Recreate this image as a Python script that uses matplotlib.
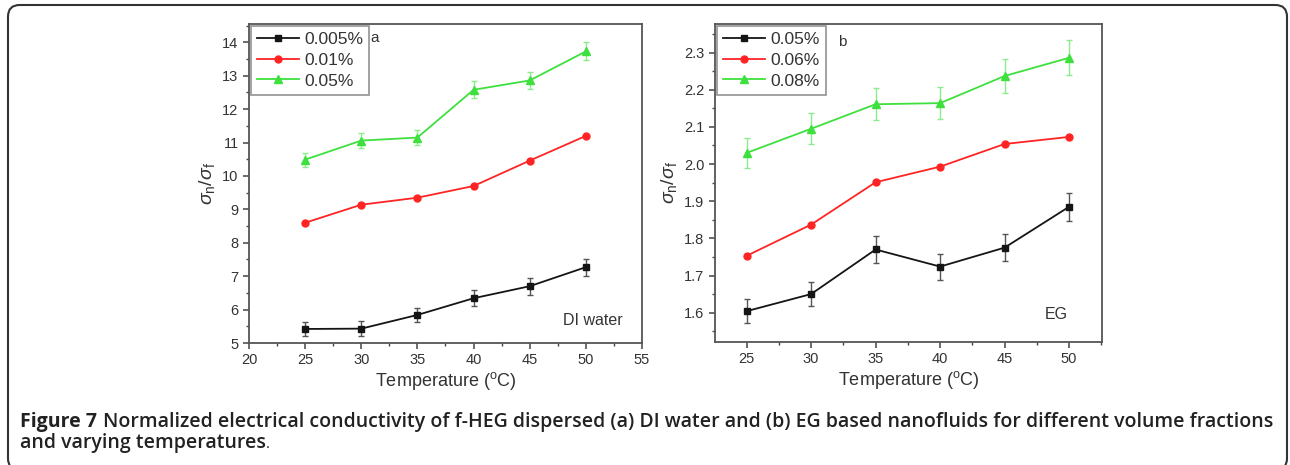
import matplotlib
matplotlib.use("Agg")
import matplotlib.pyplot as plt
from matplotlib.patches import FancyBboxPatch
from matplotlib.ticker import MultipleLocator

plt.rcParams["font.family"] = ["Liberation Sans", "DejaVu Sans"]
plt.rcParams["mathtext.fontset"] = "custom"
plt.rcParams["mathtext.rm"] = "Liberation Sans"
plt.rcParams["mathtext.it"] = "Liberation Sans:italic"

# ---- data ----
temps = [25, 30, 35, 40, 45, 50]

# (a) DI water
a_labels = ["0.005%", "0.01%", "0.05%"]
a_005 = [5.42, 5.43, 5.84, 6.34, 6.70, 7.27]
a_005_err = [0.21, 0.22, 0.22, 0.24, 0.25, 0.25]
a_01 = [8.60, 9.14, 9.35, 9.70, 10.46, 11.20]
a_01_err = [0.0, 0.0, 0.0, 0.0, 0.0, 0.0]
a_05 = [10.49, 11.06, 11.15, 12.58, 12.86, 13.73]
a_05_err = [0.21, 0.22, 0.22, 0.25, 0.26, 0.27]

# (b) EG
b_labels = ["0.05%", "0.06%", "0.08%"]
b_05 = [1.604, 1.650, 1.770, 1.724, 1.775, 1.885]
b_05_err = [0.033, 0.033, 0.036, 0.035, 0.036, 0.038]
b_06 = [1.753, 1.837, 1.951, 1.993, 2.054, 2.073]
b_06_err = [0.0, 0.0, 0.0, 0.0, 0.0, 0.0]
b_08 = [2.030, 2.095, 2.161, 2.164, 2.237, 2.286]
b_08_err = [0.040, 0.042, 0.043, 0.043, 0.045, 0.047]

colors = ["#151515", "#ff2424", "#3ee03e"]
err_colors = ["#555555", "#ff8a8a", "#8cec8c"]
markers = ["s", "o", "^"]
msizes = [4.5, 5.0, 5.5]

W, H = 1290, 465
fig = plt.figure(figsize=(W / 100, H / 100), dpi=100)

ax_a = fig.add_axes([249 / W, 1 - 343 / H, 393 / W, 319 / H])
ax_b = fig.add_axes([715 / W, 1 - 342 / H, 387 / W, 318 / H])


def draw(ax, series, errs, labels):
    handles = []
    for y, e, c, ec, m, ms, lab in zip(series, errs, colors, err_colors,
                                        markers, msizes, labels):
        if max(e) > 0:
            ax.errorbar(temps, y, yerr=e, fmt="none", ecolor=ec,
                        elinewidth=1.0, capsize=2.5, capthick=1.0, zorder=2)
        h, = ax.plot(temps, y, color=c, lw=1.3, marker=m, ms=ms,
                     mec=c, mfc=c, label=lab, zorder=3)
        handles.append(h)
    leg = ax.legend(handles=handles, loc="upper left",
                    bbox_to_anchor=(0.006, 0.994), fontsize=12.5,
                    frameon=True, fancybox=False, handlelength=2.4,
                    handletextpad=0.3, borderpad=0.35, labelspacing=0.32,
                    borderaxespad=0.0)
    leg.get_frame().set_edgecolor("#777777")
    leg.get_frame().set_linewidth(1.2)
    for t in leg.get_texts():
        t.set_color("#333333")
    for s in ax.spines.values():
        s.set_color("#555555")
        s.set_linewidth(1.3)
    ax.tick_params(which="both", direction="out", colors="#444444",
                   labelcolor="#333333", top=False, right=False)
    ax.tick_params(which="major", length=4, width=1.1, labelsize=10.5)
    ax.tick_params(which="minor", length=2.5, width=1.0)
    ax.set_xlabel("Temperature ($^{\\rm o}$C)", fontsize=13, color="#333333",
                  labelpad=2)
    ax.set_ylabel("$\\sigma_{\\rm n}/\\sigma_{\\rm f}$", fontsize=14,
                  color="#333333", labelpad=4)


draw(ax_a, [a_005, a_01, a_05], [a_005_err, a_01_err, a_05_err], a_labels)
ax_a.set_xlim(20, 55)
ax_a.set_ylim(5, 14.55)
ax_a.xaxis.set_major_locator(MultipleLocator(5))
ax_a.xaxis.set_minor_locator(MultipleLocator(2.5))
ax_a.yaxis.set_major_locator(MultipleLocator(1))
ax_a.yaxis.set_minor_locator(MultipleLocator(0.5))
ax_a.text(0.32, 0.955, "a", transform=ax_a.transAxes, fontsize=11,
          color="#333333", va="center", ha="center")
ax_a.text(0.875, 0.069, "DI water", transform=ax_a.transAxes, fontsize=11.5,
          color="#333333", va="center", ha="center")

draw(ax_b, [b_05, b_06, b_08], [b_05_err, b_06_err, b_08_err], b_labels)
ax_b.set_xlim(22.55, 52.55)
ax_b.set_ylim(1.521, 2.377)
ax_b.xaxis.set_major_locator(MultipleLocator(5))
ax_b.xaxis.set_minor_locator(MultipleLocator(2.5))
ax_b.yaxis.set_major_locator(MultipleLocator(0.1))
ax_b.yaxis.set_minor_locator(MultipleLocator(0.05))
ax_b.yaxis.set_major_formatter(plt.FormatStrFormatter("%.1f"))
ax_b.text(0.33, 0.943, "b", transform=ax_b.transAxes, fontsize=11,
          color="#333333", va="center", ha="center")
ax_b.text(0.881, 0.088, "EG", transform=ax_b.transAxes, fontsize=11.5,
          color="#333333", va="center", ha="center")

# rounded frame around the whole figure
frame = FancyBboxPatch((8 / W, 1 - 470 / H), 1279 / W, 465 / H,
                       boxstyle="round,pad=0,rounding_size=0.009",
                       transform=fig.transFigure, fill=False,
                       edgecolor="#333333", lw=1.5, mutation_aspect=W / H,
                       clip_on=False)
fig.patches.append(frame)

# caption
cap_font = ["Open Sans", "DejaVu Sans"]
cap_size = 14.05
fig.canvas.draw()
r = fig.canvas.get_renderer()
t1 = fig.text(20 / W, 1 - 427 / H, "Figure 7", family=cap_font,
              weight="bold", fontsize=cap_size, color="#222222",
              va="baseline")
bb = t1.get_window_extent(r)
fig.text((bb.x1 + 6) / W, 1 - 427 / H,
         "Normalized electrical conductivity of f-HEG dispersed (a) DI water "
         "and (b) EG based nanofluids for different volume fractions",
         family=cap_font, weight="semibold", fontsize=cap_size,
         color="#222222", va="baseline")
t3 = fig.text(20 / W, 1 - 448 / H, "and varying temperatures",
              family=cap_font, weight="semibold", fontsize=cap_size,
              color="#222222", va="baseline")
bb3 = t3.get_window_extent(r)
fig.text(bb3.x1 / W, 1 - 448 / H, ".", family=cap_font,
         fontsize=cap_size * 0.75, color="#222222", va="baseline")

fig.savefig("out.png", dpi=100)
